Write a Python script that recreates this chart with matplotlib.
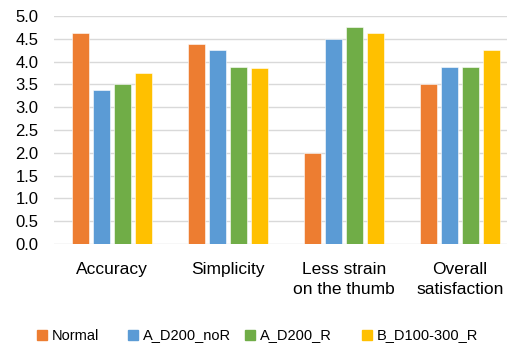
import matplotlib
matplotlib.use("Agg")
import matplotlib.pyplot as plt
from matplotlib.patches import Rectangle
import numpy as np

plt.rcParams['font.family'] = ['Liberation Sans', 'DejaVu Sans']

categories = ["Accuracy", "Simplicity", "Less strain\non the thumb", "Overall\nsatisfaction"]
series_names = ["Normal", "A_D200_noR", "A_D200_R", "B_D100-300_R"]
normal = [4.63, 4.38, 2.0, 3.5]
a_d200_nor = [3.38, 4.25, 4.5, 3.875]
a_d200_r = [3.5, 3.875, 4.75, 3.875]
b_d100_300_r = [3.75, 3.85, 4.625, 4.25]
yticks = [0.0, 0.5, 1.0, 1.5, 2.0, 2.5, 3.0, 3.5, 4.0, 4.5, 5.0]

colors = ["#ED7D31", "#5B9BD5", "#70AD47", "#FFC000"]
series = [normal, a_d200_nor, a_d200_r, b_d100_300_r]

W, H = 507, 345
fig = plt.figure(figsize=(W / 100, H / 100), dpi=100)
ax = fig.add_axes([54 / W, 1 - 244 / H, 464 / W, 228 / H])

x = np.arange(len(categories))
step = 0.181
width = 0.147
for i, (vals, c) in enumerate(zip(series, colors)):
    ax.bar(x + (i - 1.5) * step, vals, width=width, color=c, edgecolor="white",
           linewidth=0.4, zorder=3)

ax.set_xlim(-0.5, len(categories) - 0.5)
ax.set_ylim(0, 5.0)
ax.set_yticks(yticks)
ax.set_yticklabels([f"{v:.1f}" for v in yticks], fontsize=12, color="#000000")
ax.set_xticks(x)
ax.set_xticklabels(categories, fontsize=12.5, linespacing=1.38)
ax.tick_params(axis="both", length=0)
ax.tick_params(axis="x", pad=13)
ax.tick_params(axis="y", pad=11)
for s in ax.spines.values():
    s.set_visible(False)
ax.grid(axis="y", color="#D9D9D9", linewidth=1.0, zorder=0)
ax.set_axisbelow(True)

# legend (manual placement to mimic spacing)
leg_x = [37, 128, 245, 362]
leg_y = 334.5
sq = 10
for name, c, lx in zip(series_names, colors, leg_x):
    fig.add_artist(Rectangle((lx / W, 1 - (leg_y + sq / 2) / H), sq / W, sq / H,
                             transform=fig.transFigure, color=c))
    fig.text((lx + sq + 5) / W, 1 - (leg_y + 1) / H, name, fontsize=10.5,
             va="center", ha="left")

fig.savefig("out.png", dpi=100)
